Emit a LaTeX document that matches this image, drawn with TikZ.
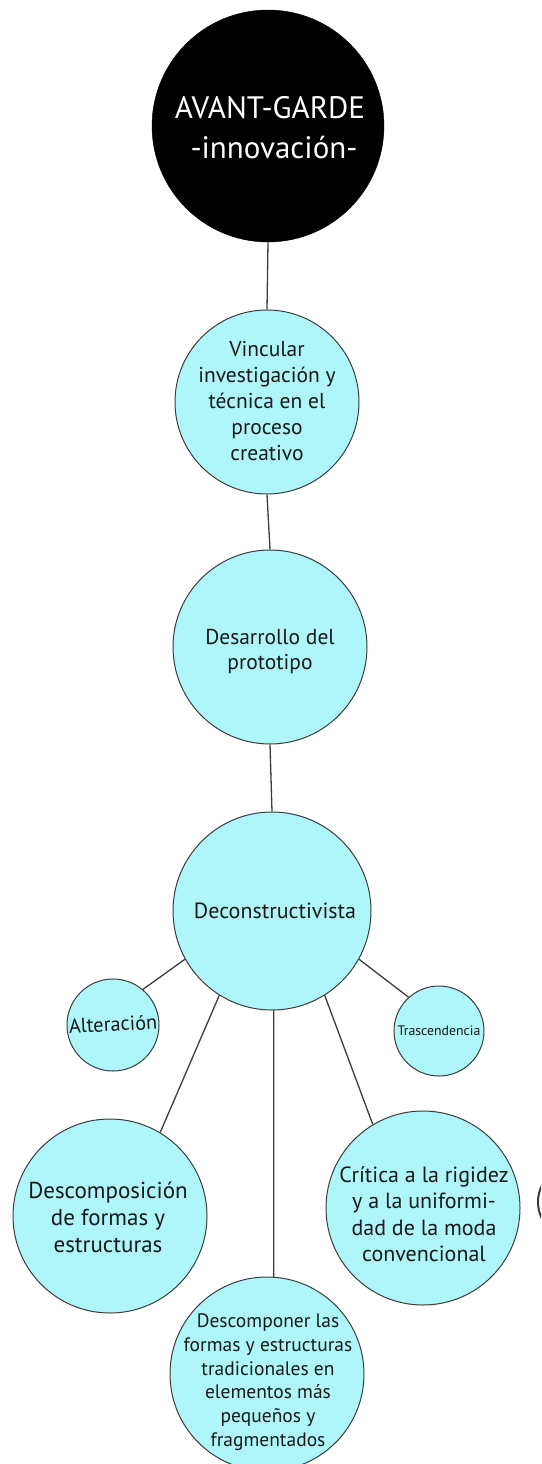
\documentclass[tikz,border=0pt]{standalone}
\usepackage{fontspec}
\setmainfont{PT Sans}
\definecolor{bub}{RGB}{174,246,250}
\definecolor{edge}{RGB}{60,60,60}
\tikzset{
  bubble/.style={circle,draw=edge,line width=1pt,fill=bub,inner sep=0pt},
  txt/.style={align=center,inner sep=0pt,text=black!90},
  link/.style={draw=edge,line width=1.3pt}
}
\newcommand\fs[2]{\fontsize{#1}{#2}\selectfont}
\begin{document}
\begin{tikzpicture}[x=1pt,y=-1pt]
\useasboundingbox (0,0) rectangle (541,1464);
\begin{scope}
\clip (0,0) rectangle (541,1464);
% circles
\node[circle,fill=black,draw=black,inner sep=0pt,minimum size=232pt] (top) at (268,126) {};
\node[bubble,minimum size=184pt] (vin) at (267,402) {};
\node[bubble,minimum size=194pt] (des) at (270,647) {};
\node[bubble,minimum size=198pt] (dec) at (272,911) {};
\node[bubble,minimum size=92pt] (alt) at (113,1025) {};
\node[bubble,minimum size=90pt] (tra) at (439,1031) {};
\node[bubble,minimum size=194pt] (dcp) at (110,1216) {};
\node[bubble,minimum size=194pt] (dsc) at (267,1374) {};
\node[bubble,minimum size=194pt] (cri) at (423,1208) {};
\draw[edge,line width=2pt] (575,1202) circle (37) coordinate (edgebit);
% connectors
\draw[link] (top.south) -- (vin.north);
\draw[link] (vin.south) -- (des.north);
\draw[link] (des.south) -- (dec.north);
\draw[link] (dec.209) -- (alt.50);
\draw[link] (dec.331) -- (tra.132);
\draw[link] (dec.238) -- (dcp.59);
\draw[link] (dec.271) -- (dsc.86);
\draw[link] (dec.302) -- (cri.121);
% texts
\node[txt,text=white,font=\fs{31}{40}] (topT) at (270,128) {AVANT-GARDE\\\hspace*{8pt}-innovación-};
\node[txt,font=\fs{21.5}{26}] (vinT) at (267,401) {Vincular\\investigación y\\técnica en el\\proceso\\creativo};
\node[txt,font=\fs{21.5}{25}] (desT) at (270,652) {Desarrollo del\\prototipo};
\node[txt,font=\fs{22}{25}] (decT) at (275,911) {Deconstructivista};
\node[txt,rotate=3,font=\fs{20.3}{22}] (altT) at (113,1024) {Alteración};
\node[txt,font=\fs{13.8}{14}] (traT) at (439,1031) {Trascendencia};
\node[txt,font=\fs{23}{27}] (dcpT) at (108,1217) {Descomposición\\de formas y\\estructuras};
\node[txt,font=\fs{22}{26.5}] (criT) at (424,1214) {Crítica a la rigidez\\y a la uniformi-\\dad de la moda\\convencional};
\node[txt,font=\fs{19.5}{23.7}] (dscT) at (268,1382) {Descomponer las\\formas y estructuras\\tradicionales en\\elementos más\\pequeños y\\fragmentados};
\end{scope}
\end{tikzpicture}
\end{document}
